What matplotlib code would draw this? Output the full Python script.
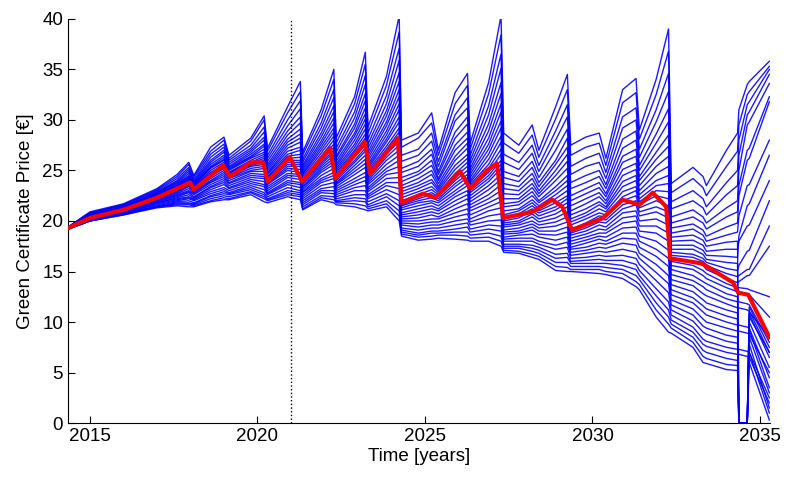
import matplotlib
matplotlib.use("Agg")
import matplotlib.pyplot as plt
import numpy as np

plt.rcParams['font.family'] = ['Liberation Sans', 'DejaVu Sans']

# knot times shared by the simulated (blue) price paths
t_blue = [2014.35, 2015.0, 2016.0, 2017.0, 2017.6, 2017.95, 2018.1, 2018.6, 2019.0, 2019.15,
          2019.8, 2020.2, 2020.3, 2020.9, 2021.28, 2021.35, 2021.9, 2022.28, 2022.35, 2022.9,
          2023.22, 2023.3, 2023.85, 2024.23, 2024.3, 2024.8, 2025.2, 2025.4, 2025.9, 2026.27,
          2026.35, 2026.9, 2027.27, 2027.35, 2027.8, 2028.2, 2028.4, 2028.9, 2029.25, 2029.35,
          2029.8, 2030.2, 2030.4, 2030.9, 2031.3, 2031.4, 2031.9, 2032.27, 2032.35, 2033.0,
          2033.3, 2033.4, 2034.0, 2034.33, 2034.37, 2034.62, 2034.68, 2035.28]

path_a = [19.4, 20.9, 21.7, 23.2, 24.6, 25.8, 24.5, 27.3, 28.3, 26.5, 28.2, 30.4, 27.2, 31.3, 33.8,
          26.8, 31.0, 35.0, 28.2, 32.3, 36.7, 29.3, 34.3, 40.3, 28.0, 28.7, 30.7, 27.0, 32.7, 34.6,
          27.7, 33.7, 40.3, 28.7, 27.5, 29.5, 27.0, 31.3, 34.5, 27.5, 28.3, 28.7, 26.2, 33.0, 34.1,
          29.0, 34.0, 39.0, 23.7, 25.3, 24.4, 23.5, 27.0, 28.7, 31.0, 33.5, 33.8, 35.8]
path_ab = [19.4, 20.8, 21.6, 23.1, 24.4, 25.6, 24.4, 26.9, 28.0, 26.2, 27.9, 30.0, 26.9, 30.7, 32.8,
           26.5, 30.4, 34.0, 27.7, 31.6, 35.5, 28.7, 33.4, 38.7, 27.3, 28.2, 29.7, 26.5, 31.6, 33.4,
           27.1, 32.6, 38.4, 27.7, 26.7, 28.5, 26.3, 30.1, 33.0, 26.5, 27.3, 27.7, 25.5, 31.7, 32.7,
           28.1, 32.5, 36.8, 22.8, 24.2, 23.3, 22.5, 25.4, 26.9, 29.5, 32.5, 32.8, 35.3]
path_b = [19.4, 20.8, 21.6, 23.0, 24.2, 25.3, 24.2, 26.6, 27.6, 26.0, 27.5, 29.3, 26.5, 30.0, 31.9,
          26.1, 29.7, 33.0, 27.2, 30.8, 34.4, 28.1, 32.4, 37.1, 26.5, 27.1, 28.7, 25.9, 30.5, 32.2,
          26.5, 31.4, 36.5, 26.6, 25.8, 27.5, 25.5, 28.9, 31.5, 25.4, 26.2, 26.7, 24.8, 30.3, 31.2,
          27.1, 31.0, 34.6, 21.9, 23.0, 22.2, 21.4, 23.8, 25.0, 28.0, 31.5, 31.8, 35.0]
path_bc = [19.4, 20.8, 21.5, 22.9, 24.0, 25.1, 24.0, 26.3, 27.3, 25.8, 27.2, 28.8, 26.2, 29.4, 31.1,
           25.8, 29.2, 32.2, 26.8, 30.2, 33.5, 27.6, 31.6, 35.9, 25.9, 26.5, 27.9, 25.4, 29.9, 31.2,
           26.0, 30.5, 35.1, 25.8, 25.1, 26.7, 24.9, 28.0, 30.3, 24.6, 25.4, 25.8, 24.2, 29.2, 30.0,
           26.3, 29.8, 32.8, 21.2, 22.0, 21.3, 20.6, 22.6, 23.5, 26.5, 30.5, 30.8, 34.5]
path_c = [19.4, 20.7, 21.4, 22.8, 23.9, 24.9, 23.9, 26.0, 27.0, 25.6, 27.0, 28.3, 25.9, 28.9, 30.3,
          25.5, 28.7, 31.4, 26.4, 29.6, 32.6, 27.2, 30.9, 34.7, 25.2, 25.9, 27.1, 24.9, 28.8, 30.3,
          25.6, 29.6, 33.7, 24.9, 24.4, 25.9, 24.3, 27.0, 29.1, 23.8, 24.5, 25.0, 23.6, 28.1, 28.9,
          25.5, 28.6, 31.1, 20.4, 21.1, 20.4, 19.8, 21.3, 22.0, 25.0, 29.5, 29.8, 33.6]
path_cd = [19.3, 20.6, 21.4, 22.8, 23.8, 24.7, 23.8, 25.8, 26.8, 25.4, 26.8, 28.0, 25.6, 28.5, 29.7,
           25.3, 28.3, 30.8, 26.2, 29.2, 31.9, 26.8, 30.4, 33.8, 24.8, 25.4, 26.6, 24.6, 28.2, 29.6,
           25.2, 28.9, 32.6, 24.3, 23.9, 25.3, 23.8, 26.0, 28.2, 23.2, 23.8, 24.4, 23.2, 27.2, 28.0,
           25.0, 27.7, 29.8, 19.8, 20.4, 19.8, 19.2, 20.4, 20.9, 23.5, 27.0, 27.2, 32.3]
path_d = [19.3, 20.6, 21.3, 22.7, 23.7, 24.5, 23.7, 25.6, 26.5, 25.3, 26.6, 27.6, 25.4, 28.1, 29.1,
          25.1, 27.9, 30.2, 25.9, 28.7, 31.2, 26.5, 29.8, 33.0, 24.3, 24.9, 26.0, 24.2, 27.5, 28.8,
          24.9, 28.2, 31.6, 23.7, 23.4, 24.7, 23.4, 25.6, 27.3, 22.5, 23.2, 23.8, 22.7, 26.4, 27.1,
          24.4, 26.8, 28.5, 19.3, 19.7, 19.1, 18.5, 19.4, 19.8, 22.5, 26.0, 26.2, 31.8]
path_de = [19.3, 20.6, 21.3, 22.6, 23.6, 24.4, 23.6, 25.4, 26.3, 25.2, 26.4, 27.4, 25.2, 27.8, 28.6,
           24.9, 27.6, 29.7, 25.6, 28.4, 30.6, 26.2, 29.4, 32.3, 23.9, 24.6, 25.5, 24.0, 27.0, 28.2,
           24.6, 27.6, 30.8, 23.2, 23.0, 24.2, 23.0, 25.0, 26.6, 22.0, 22.7, 23.3, 22.4, 25.8, 26.4,
           24.0, 26.1, 27.4, 18.8, 19.2, 18.6, 18.0, 18.6, 18.9, 20.5, 23.5, 23.6, 28.0]
path_e = [19.3, 20.5, 21.3, 22.6, 23.5, 24.3, 23.6, 25.3, 26.1, 25.1, 26.3, 27.1, 25.0, 27.5, 28.2,
          24.7, 27.3, 29.2, 25.4, 28.0, 30.1, 25.9, 28.9, 31.6, 23.5, 24.2, 25.0, 23.7, 26.4, 27.7,
          24.3, 27.1, 29.9, 22.7, 22.6, 23.7, 22.7, 24.5, 25.9, 21.5, 22.2, 22.8, 22.0, 25.1, 25.7,
          23.5, 25.4, 26.4, 18.4, 18.6, 18.1, 17.5, 17.9, 18.0, 0.0, 0.0, 10.5, 7.0]
path_ef = [19.3, 20.5, 21.2, 22.6, 23.4, 24.2, 23.5, 25.2, 26.0, 25.0, 26.2, 26.8, 24.8, 27.2, 27.8,
           24.6, 27.0, 28.8, 25.2, 27.6, 29.6, 25.6, 28.5, 31.0, 23.2, 23.8, 24.6, 23.4, 26.0, 27.2,
           24.0, 26.6, 29.2, 22.2, 22.2, 23.3, 22.4, 24.0, 25.2, 21.0, 21.7, 22.4, 21.7, 24.5, 25.1,
           23.0, 24.7, 25.4, 18.0, 18.1, 17.6, 17.0, 17.2, 17.2, 18.0, 19.5, 19.6, 24.0]
path_f = [19.3, 20.5, 21.2, 22.5, 23.4, 24.1, 23.4, 25.0, 25.8, 24.8, 26.0, 26.6, 24.7, 26.9, 27.3,
          24.4, 26.7, 28.4, 25.0, 27.3, 29.1, 25.4, 28.1, 30.3, 22.9, 23.5, 24.1, 23.2, 25.5, 26.6,
          23.8, 26.1, 28.4, 21.7, 21.9, 22.9, 22.0, 23.4, 24.5, 20.6, 21.2, 21.9, 21.4, 23.9, 24.5,
          22.6, 24.0, 24.5, 17.6, 17.6, 17.1, 16.6, 16.5, 16.4, 18.5, 21.5, 21.7, 26.5]
path_fg = [19.3, 20.4, 21.2, 22.4, 23.3, 24.0, 23.4, 24.8, 25.6, 24.8, 25.8, 26.4, 24.6, 26.6, 27.0,
           24.2, 26.4, 28.0, 24.8, 27.0, 28.6, 25.2, 27.8, 29.8, 22.6, 23.2, 23.8, 23.0, 25.1, 26.2,
           23.6, 25.6, 27.8, 21.4, 21.6, 22.5, 21.8, 23.0, 24.0, 20.2, 20.8, 21.6, 21.2, 23.4, 24.0,
           22.2, 23.5, 23.7, 17.2, 17.2, 16.7, 16.2, 15.9, 15.8, 0.0, 0.0, 11.0, 8.5]
path_g = [19.3, 20.4, 21.1, 22.4, 23.2, 23.9, 23.3, 24.7, 25.5, 24.7, 25.7, 26.2, 24.4, 26.4, 26.6,
          24.1, 26.2, 27.6, 24.6, 26.8, 28.2, 25.0, 27.4, 29.2, 22.3, 22.9, 23.4, 22.8, 24.7, 25.8,
          23.4, 25.2, 27.1, 21.0, 21.2, 22.1, 21.5, 22.6, 23.5, 19.9, 20.5, 21.2, 20.9, 22.9, 23.4,
          21.9, 23.0, 22.9, 16.9, 16.7, 16.3, 15.9, 15.3, 15.1, 15.6, 17.0, 17.1, 22.0]
path_gh = [19.3, 20.4, 21.1, 22.4, 23.2, 23.8, 23.2, 24.6, 25.4, 24.6, 25.6, 26.0, 24.3, 26.2, 26.3,
           24.0, 26.0, 27.3, 24.4, 26.6, 27.8, 24.8, 27.1, 28.8, 22.0, 22.6, 23.1, 22.6, 24.4, 25.4,
           23.2, 24.8, 26.6, 20.6, 21.0, 21.8, 21.2, 22.2, 23.0, 19.6, 20.2, 20.8, 20.6, 22.4, 23.0,
           21.6, 22.5, 22.2, 16.6, 16.4, 16.0, 15.6, 14.8, 14.5, 14.6, 15.2, 15.2, 19.5]
path_h = [19.3, 20.4, 21.1, 22.3, 23.1, 23.7, 23.2, 24.5, 25.3, 24.5, 25.5, 25.8, 24.2, 26.0, 26.0,
          23.9, 25.8, 27.0, 24.3, 26.3, 27.5, 24.6, 26.8, 28.3, 21.8, 22.4, 22.8, 22.4, 24.0, 25.0,
          23.0, 24.5, 26.0, 20.3, 20.7, 21.5, 21.0, 21.8, 22.5, 19.2, 19.8, 20.5, 20.4, 22.0, 22.5,
          21.3, 22.0, 21.5, 16.3, 16.0, 15.6, 15.2, 14.3, 13.9, 14.0, 14.6, 14.6, 17.5]
path_hi = [19.3, 20.4, 21.1, 22.2, 23.0, 23.6, 23.1, 24.4, 25.2, 24.4, 25.4, 25.6, 24.1, 25.8, 25.8,
           23.8, 25.6, 26.8, 24.2, 26.0, 27.2, 24.4, 26.6, 27.9, 21.6, 22.2, 22.6, 22.2, 23.7, 24.6,
           22.8, 24.2, 25.6, 20.2, 20.5, 21.2, 20.8, 21.4, 22.2, 19.0, 19.6, 20.2, 20.1, 21.6, 22.0,
           20.9, 21.4, 20.9, 16.0, 15.6, 15.1, 14.8, 13.8, 13.4, 13.4, 13.3, 13.2, 12.5]
path_i = [19.3, 20.4, 21.1, 22.2, 22.9, 23.5, 23.0, 24.2, 25.0, 24.3, 25.2, 25.4, 24.0, 25.6, 25.6,
          23.6, 25.4, 26.5, 24.0, 25.8, 26.9, 24.2, 26.3, 27.5, 21.5, 22.0, 22.3, 22.0, 23.4, 24.3,
          22.5, 23.9, 25.2, 20.0, 20.3, 21.0, 20.5, 21.1, 21.8, 18.8, 19.3, 19.9, 19.8, 21.2, 21.6,
          20.5, 20.9, 20.3, 15.6, 15.2, 14.6, 14.3, 13.4, 13.0, 13.0, 12.8, 12.7, 10.5]
path_ij = [19.3, 20.4, 21.0, 22.2, 22.8, 23.4, 22.9, 24.0, 24.8, 24.2, 25.0, 25.2, 23.8, 25.4, 25.4,
           23.4, 25.2, 26.2, 23.8, 25.5, 26.5, 24.0, 26.0, 27.0, 21.3, 21.8, 22.0, 21.8, 23.0, 23.9,
           22.2, 23.5, 24.6, 19.8, 20.0, 20.7, 20.2, 20.7, 21.4, 18.6, 19.0, 19.6, 19.4, 20.8, 21.0,
           20.0, 20.2, 19.6, 15.2, 14.6, 14.0, 13.8, 12.8, 12.5, 0.0, 0.0, 11.5, 7.5]
path_j = [19.3, 20.3, 21.0, 22.1, 22.7, 23.2, 22.8, 23.9, 24.6, 24.0, 24.9, 24.9, 23.7, 25.2, 25.1,
          23.3, 25.0, 25.9, 23.7, 25.2, 26.1, 23.8, 25.6, 26.5, 21.1, 21.5, 21.8, 21.5, 22.7, 23.5,
          21.9, 23.1, 24.1, 19.6, 19.8, 20.4, 19.9, 20.3, 20.9, 18.3, 18.7, 19.2, 19.1, 20.3, 20.5,
          19.5, 19.5, 18.8, 14.7, 14.1, 13.5, 13.2, 12.3, 12.0, 12.0, 11.8, 11.7, 8.0]
path_jk = [19.3, 20.3, 21.0, 22.0, 22.6, 23.0, 22.7, 23.8, 24.4, 23.8, 24.7, 24.6, 23.6, 25.0, 24.8,
           23.1, 24.8, 25.6, 23.6, 24.9, 25.7, 23.6, 25.2, 26.0, 20.8, 21.2, 21.5, 21.2, 22.4, 23.0,
           21.6, 22.6, 23.6, 19.4, 19.6, 20.0, 19.6, 19.9, 20.4, 18.0, 18.4, 18.8, 18.8, 19.8, 20.0,
           19.0, 18.8, 18.0, 14.2, 13.6, 12.8, 12.6, 11.8, 11.4, 11.4, 11.2, 11.1, 7.0]
path_k = [19.3, 20.3, 20.9, 22.0, 22.5, 22.9, 22.6, 23.6, 24.2, 23.7, 24.5, 24.4, 23.4, 24.7, 24.6,
          22.9, 24.5, 25.2, 23.4, 24.6, 25.3, 23.3, 24.9, 25.4, 20.6, 20.9, 21.2, 21.0, 22.0, 22.6,
          21.3, 22.2, 23.0, 19.1, 19.3, 19.7, 19.3, 19.5, 19.9, 17.7, 18.1, 18.5, 18.4, 19.3, 19.4,
          18.5, 18.0, 17.1, 13.7, 13.0, 12.2, 11.9, 11.2, 10.9, 0.0, 0.0, 10.8, 6.5]
path_kl = [19.2, 20.2, 20.9, 21.9, 22.4, 22.8, 22.4, 23.4, 24.0, 23.5, 24.3, 24.2, 23.2, 24.5, 24.4,
           22.8, 24.2, 24.8, 23.2, 24.2, 24.8, 23.1, 24.6, 24.8, 20.4, 20.6, 20.9, 20.7, 21.6, 22.2,
           21.0, 21.8, 22.4, 18.9, 19.0, 19.4, 19.0, 19.0, 19.4, 17.4, 17.8, 18.2, 18.0, 18.8, 18.8,
           18.0, 17.2, 16.3, 13.2, 12.4, 11.6, 11.3, 10.6, 10.3, 0.0, 0.0, 10.0, 5.5]
path_l = [19.2, 20.2, 20.9, 21.8, 22.3, 22.6, 22.3, 23.3, 23.8, 23.3, 24.1, 23.9, 23.0, 24.3, 24.1,
          22.6, 24.0, 24.5, 23.0, 23.9, 24.4, 22.9, 24.2, 24.3, 20.2, 20.3, 20.6, 20.4, 21.2, 21.7,
          20.6, 21.4, 21.9, 18.7, 18.8, 19.1, 18.7, 18.6, 18.9, 17.2, 17.4, 17.8, 17.7, 18.3, 18.2,
          17.4, 16.5, 15.5, 12.7, 11.9, 11.0, 10.7, 10.0, 9.7, 9.7, 9.5, 9.4, 4.5]
path_lm = [19.2, 20.2, 20.8, 21.8, 22.2, 22.4, 22.2, 23.1, 23.6, 23.2, 23.9, 23.6, 22.8, 24.0, 23.8,
           22.4, 23.8, 24.2, 22.8, 23.6, 24.0, 22.6, 23.8, 23.8, 20.0, 20.0, 20.2, 20.2, 20.8, 21.2,
           20.2, 21.0, 21.3, 18.4, 18.6, 18.7, 18.4, 18.1, 18.4, 16.9, 17.1, 17.4, 17.3, 17.8, 17.6,
           16.8, 15.7, 14.6, 12.2, 11.3, 10.3, 10.0, 9.4, 9.1, 9.1, 8.9, 8.8, 5.0]
path_m = [19.2, 20.2, 20.8, 21.7, 22.1, 22.3, 22.1, 22.9, 23.3, 23.0, 23.7, 23.4, 22.7, 23.8, 23.6,
          22.2, 23.5, 23.8, 22.6, 23.3, 23.5, 22.4, 23.5, 23.2, 19.8, 19.7, 19.9, 19.9, 20.4, 20.7,
          19.9, 20.5, 20.7, 18.2, 18.3, 18.3, 18.0, 17.6, 17.9, 16.6, 16.8, 17.0, 16.9, 17.2, 16.9,
          16.3, 14.9, 13.8, 11.7, 10.7, 9.6, 9.4, 8.7, 8.5, 0.0, 0.0, 9.2, 3.5]
path_mn = [19.2, 20.2, 20.8, 21.6, 22.0, 22.2, 22.0, 22.7, 23.1, 22.8, 23.5, 23.1, 22.6, 23.6, 23.3,
           22.0, 23.2, 23.4, 22.4, 23.0, 23.0, 22.2, 23.1, 22.6, 19.6, 19.4, 19.6, 19.6, 20.0, 20.2,
           19.6, 20.0, 20.1, 18.0, 18.0, 18.0, 17.7, 17.2, 17.4, 16.3, 16.4, 16.6, 16.5, 16.6, 16.3,
           15.7, 14.1, 12.9, 11.2, 10.1, 9.0, 8.8, 8.1, 7.9, 0.0, 0.0, 8.5, 3.0]
path_n = [19.2, 20.1, 20.7, 21.5, 21.9, 22.0, 21.8, 22.5, 22.9, 22.7, 23.3, 22.8, 22.4, 23.3, 23.0,
          21.8, 23.0, 23.0, 22.2, 22.6, 22.6, 21.9, 22.7, 22.0, 19.3, 19.1, 19.3, 19.3, 19.6, 19.8,
          19.2, 19.6, 19.5, 17.7, 17.7, 17.6, 17.4, 16.7, 16.8, 16.0, 16.1, 16.2, 16.1, 16.1, 15.7,
          15.1, 13.3, 12.0, 10.7, 9.5, 8.3, 8.1, 7.5, 7.3, 7.3, 7.1, 7.0, 2.5]
path_no = [19.2, 20.0, 20.7, 21.4, 21.8, 21.8, 21.7, 22.4, 22.7, 22.6, 23.1, 22.6, 22.2, 23.0, 22.8,
           21.6, 22.8, 22.7, 22.0, 22.3, 22.2, 21.6, 22.4, 21.5, 19.1, 18.8, 19.0, 19.0, 19.2, 19.4,
           18.9, 19.2, 19.0, 17.5, 17.5, 17.3, 17.1, 16.3, 16.4, 15.8, 15.8, 15.8, 15.8, 15.6, 15.2,
           14.6, 12.6, 11.2, 10.2, 9.0, 7.8, 7.6, 7.0, 6.8, 6.8, 6.6, 6.5, 2.0]
path_o = [19.2, 20.0, 20.7, 21.4, 21.7, 21.7, 21.6, 22.2, 22.5, 22.4, 22.9, 22.4, 22.1, 22.8, 22.6,
          21.4, 22.5, 22.4, 21.9, 22.0, 21.9, 21.4, 22.0, 21.0, 18.9, 18.6, 18.8, 18.8, 18.9, 18.9,
          18.6, 18.8, 18.5, 17.3, 17.3, 17.0, 16.8, 15.9, 15.9, 15.5, 15.5, 15.5, 15.4, 15.2, 14.6,
          14.2, 11.9, 10.5, 9.8, 8.5, 7.2, 7.0, 6.4, 6.2, 0.0, 0.0, 7.8, 1.5]
path_op = [19.2, 20.0, 20.6, 21.4, 21.6, 21.6, 21.5, 22.0, 22.3, 22.2, 22.8, 22.2, 22.0, 22.6, 22.4,
           21.2, 22.3, 22.1, 21.8, 21.7, 21.5, 21.2, 21.7, 20.5, 18.7, 18.4, 18.5, 18.6, 18.6, 18.5,
           18.3, 18.4, 18.0, 17.1, 17.0, 16.7, 16.5, 15.5, 15.4, 15.2, 15.2, 15.2, 15.0, 14.8, 14.0,
           13.7, 11.2, 9.8, 9.4, 8.0, 6.6, 6.4, 5.8, 5.7, 0.0, 0.0, 7.0, 1.0]
path_p = [19.2, 20.0, 20.6, 21.3, 21.5, 21.4, 21.4, 21.9, 22.1, 22.1, 22.6, 21.9, 21.8, 22.4, 22.1,
          21.1, 22.1, 21.8, 21.6, 21.4, 21.1, 21.0, 21.4, 20.0, 18.5, 18.1, 18.2, 18.3, 18.2, 18.1,
          18.0, 18.0, 17.5, 16.9, 16.8, 16.4, 16.2, 15.1, 15.0, 15.0, 14.9, 14.8, 14.7, 14.3, 13.5,
          13.2, 10.5, 9.0, 8.9, 7.5, 6.0, 5.9, 5.3, 5.2, 0.0, 0.0, 6.0, 0.3]

blue_paths = [path_a, path_ab, path_b, path_bc, path_c, path_cd, path_d, path_de,
              path_e, path_ef, path_f, path_fg, path_g, path_gh, path_h, path_hi,
              path_i, path_ij, path_j, path_jk, path_k, path_kl, path_l, path_lm,
              path_m, path_mn, path_n, path_no, path_o, path_op, path_p]

# highlighted (red) path
t_red = [2014.35, 2015.0, 2016.0, 2017.0, 2017.99, 2018.1, 2018.97, 2019.18, 2019.8, 2020.17,
         2020.3, 2020.97, 2021.33, 2022.17, 2022.32, 2023.21, 2023.36, 2024.19, 2024.3, 2024.94,
         2025.3, 2026.05, 2026.35, 2026.85, 2027.15, 2027.33, 2028.2, 2028.8, 2029.1, 2029.39,
         2030.32, 2030.9, 2031.4, 2031.8, 2032.2, 2032.32, 2033.27, 2034.2, 2034.35, 2034.65, 2035.28]
y_red = [19.3, 20.3, 21.1, 22.3, 23.8, 23.1, 25.5, 24.4, 25.8, 25.8,
         23.9, 26.3, 23.9, 27.2, 24.2, 27.8, 24.7, 28.2, 21.8, 22.7,
         22.3, 24.9, 23.2, 25.0, 25.7, 20.3, 20.9, 22.1, 21.4, 19.1,
         20.3, 22.1, 21.6, 22.8, 21.4, 16.3, 15.8, 13.9, 12.9, 12.7, 8.5]

cutoff_year = 2021

fig = plt.figure(figsize=(7.88, 4.83), dpi=100)
ax = fig.add_axes([0.0863, 0.124, 0.8909, 0.837])

for p in blue_paths:
    ax.plot(t_blue, p, color='#0000ff', linewidth=1.0, alpha=0.9, zorder=2)
ax.plot(t_red, y_red, color='#ff0000', linewidth=3.0, zorder=4)
ax.axvline(cutoff_year, color='black', linestyle=':', linewidth=1.0, zorder=3)

ax.set_xlim(2014.345, 2035.30)
ax.set_ylim(0, 40)
ax.set_xticks(np.arange(2015, 2036, 5))
ax.set_yticks(np.arange(0, 41, 5))
ax.tick_params(direction='in', length=5, labelsize=13.5, top=False, right=False)
for side in ['top', 'right']:
    ax.spines[side].set_visible(False)
for side in ['left', 'bottom']:
    ax.spines[side].set_linewidth(0.8)

ax.set_xlabel('Time [years]', fontsize=13.5, labelpad=2)
ax.set_ylabel('Green Certificate Price [€]', fontsize=13.5, labelpad=6)

fig.savefig('out.png', dpi=100)
